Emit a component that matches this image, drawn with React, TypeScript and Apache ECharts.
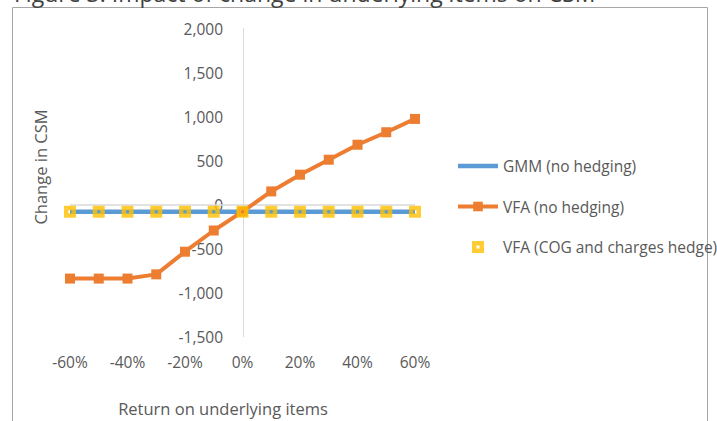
import React, { useEffect, useRef } from "react";
import * as echarts from "echarts";

const returns = [-60, -50, -40, -30, -20, -10, 0, 10, 20, 30, 40, 50, 60];
const gmmNoHedging = [-80, -80, -80, -80, -80, -80, -80, -80, -80, -80, -80, -80, -80];
const vfaNoHedging = [-840, -840, -840, -792, -535, -294, -80, 150, 340, 510, 680, 822, 973];
const vfaCogHedge = [-80, -80, -80, -80, -80, -80, -80, -80, -80, -80, -80, -80, -80];
const seriesNames = ["GMM (no hedging)", "VFA (no hedging)", "VFA (COG and charges hedge)"];
const titleText = "Figure 3: Impact of change in underlying items on CSM";
const yAxisTitle = "Change in CSM";
const xAxisTitle = "Return on underlying items";

const FONT = "'Open Sans', sans-serif";
const TXT = "#595959";
const HOLLOW_SQUARE = "path://M0,0h12v12h-12z M4.5,4.5v3h3v-3z";
const LINE_ICON = "path://M0,0h40v4.5h-40z";

export default function App() {
  const ref = useRef<HTMLDivElement>(null);
  useEffect(() => {
    if (!ref.current) return;
    const chart = echarts.init(ref.current, undefined, { renderer: "svg" });
    const pairs = (vals: number[]) => returns.map((r, i) => [r, vals[i]]);
    chart.setOption({
      animation: false,
      backgroundColor: "#ffffff",
      textStyle: { fontFamily: FONT },
      title: {
        text: titleText,
        left: 9,
        top: -24,
        padding: 5,
        textStyle: {
          color: "#404040",
          fontSize: 23,
          fontWeight: "normal",
          fontFamily: FONT,
          lineHeight: 23,
        },
      },
      grid: { left: 70, right: 302, top: 28.5, bottom: 84.3 },
      xAxis: {
        type: "value",
        min: -60,
        max: 60,
        interval: 20,
        axisLine: { show: false, onZero: false },
        axisTick: { show: false },
        splitLine: { show: false },
        axisLabel: {
          color: TXT,
          fontSize: 15.5,
          fontFamily: FONT,
          margin: 17,
          formatter: (v: number) => `${v}%`,
        },
      },
      yAxis: {
        type: "value",
        min: -1500,
        max: 2000,
        interval: 500,
        offset: -173,
        axisLine: { show: true, onZero: false, lineStyle: { color: "#d9d9d9", width: 1 } },
        axisTick: { show: false },
        splitLine: { show: false },
        axisLabel: {
          color: TXT,
          fontSize: 15.5,
          fontFamily: FONT,
          margin: 20,
          formatter: (v: number) => v.toLocaleString("en-US"),
        },
      },
      legend: {
        orient: "vertical",
        left: 451,
        top: 153,
        itemWidth: 40,
        itemHeight: 12,
        itemGap: 24.5,
        textStyle: { color: TXT, fontSize: 15.5, fontFamily: FONT },
        data: [
          {
            name: seriesNames[0],
            icon: LINE_ICON,
            itemStyle: { color: "#5B9BD5", borderWidth: 0 },
          },
          {
            name: seriesNames[1],
            lineStyle: { color: "#ED7D31", width: 4 },
          },
          {
            name: seriesNames[2],
            icon: HOLLOW_SQUARE,
            itemStyle: { color: "#FFC000", borderWidth: 0 },
          },
        ],
      },
      series: [
        {
          name: seriesNames[0],
          type: "line",
          data: pairs(gmmNoHedging),
          showSymbol: false,
          symbol: "none",
          lineStyle: { color: "#5B9BD5", width: 4.5 },
          itemStyle: { color: "#5B9BD5" },
          z: 2,
          markLine: {
            silent: true,
            symbol: "none",
            label: { show: false },
            lineStyle: { color: "#d9d9d9", width: 1.5, type: "solid" },
            data: [{ yAxis: 0 }],
            z: 1,
          },
        },
        {
          name: seriesNames[1],
          type: "line",
          data: pairs(vfaNoHedging),
          symbol: "rect",
          symbolSize: 10,
          lineStyle: { color: "#ED7D31", width: 4 },
          itemStyle: { color: "#ED7D31" },
          z: 3,
        },
        {
          name: seriesNames[2],
          type: "scatter",
          data: pairs(vfaCogHedge),
          symbol: HOLLOW_SQUARE,
          symbolSize: 12,
          itemStyle: { color: "#FFC000" },
          z: 4,
        },
      ],
      graphic: [
        {
          type: "rect",
          shape: { x: 12.5, y: 7.5, width: 695, height: 500 },
          style: { fill: "none", stroke: "#a6a6a6", lineWidth: 1 },
          silent: true,
        },
        {
          type: "text",
          x: 40,
          y: 167,
          rotation: Math.PI / 2,
          style: {
            text: yAxisTitle,
            fill: TXT,
            font: `16.5px ${FONT}`,
            verticalAlign: "middle",
            align: "center",
          },
          silent: true,
        },
        {
          type: "text",
          x: 223,
          y: 408,
          style: {
            text: xAxisTitle,
            fill: TXT,
            font: `16.5px ${FONT}`,
            verticalAlign: "middle",
            align: "center",
          },
          silent: true,
        },
      ],
    });
    return () => chart.dispose();
  }, []);
  return (
    <div
      ref={ref}
      style={{ position: "absolute", left: 0, top: 0, width: 717, height: 421 }}
    />
  );
}
